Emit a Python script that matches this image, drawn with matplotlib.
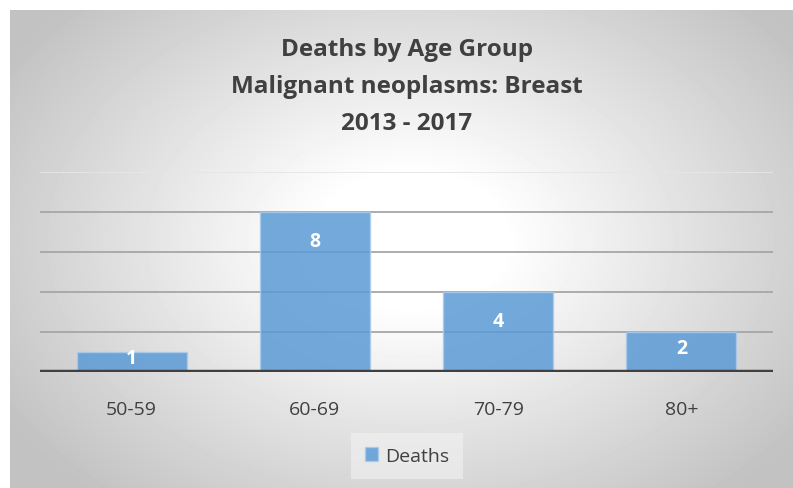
import matplotlib
matplotlib.use("Agg")
import matplotlib.pyplot as plt
import numpy as np

age_groups = ["50-59", "60-69", "70-79", "80+"]
deaths = [1, 8, 4, 2]
grid_levels = [2, 4, 6, 8, 10]

BAR = "#5B9BD5"; TXT = "#404040"; TITLE = "#404040"
plt.rcParams["font.family"] = ["Open Sans", "DejaVu Sans"]

W, H = 793, 489
fig = plt.figure(figsize=(W/100, H/100), dpi=100)
fig.patch.set_facecolor("white")

# radial grey gradient panel (Excel style)
bg = fig.add_axes([10/W, 0, 783/W, 478/H], zorder=0)
yy, xx = np.mgrid[0:478, 0:783]
d = np.sqrt(((xx-400)/470.0)**2 + ((yy-230)/330.0)**2)
shade = np.clip(1.0 - 0.25*np.clip(d-0.2, 0, None)/0.85, 0.76, 1.0)
bg.imshow(shade, cmap="gray", vmin=0, vmax=1, aspect="auto", interpolation="bilinear")
bg.set_axis_off()

ax = fig.add_axes([40/W, (H-373)/H, 733/W, 200/H], zorder=1)
ax.patch.set_alpha(0)
x = np.arange(len(age_groups))
for g in grid_levels:
    ax.axhline(g, color="#E6E6E6" if g == 10 else "#A6A6A6", lw=1.3, zorder=1)
bars = ax.bar(x, deaths, width=0.6, color=BAR, alpha=0.85, edgecolor="#A9CBEA",
              linewidth=1, zorder=2, label="Deaths")
ax.axhline(0, color="#404040", lw=3.2, zorder=3)
px_per_unit = 200/10
for b, v in zip(bars, deaths):
    off = min(29, v*px_per_unit/2 - 3.5)
    ax.annotate(str(v), (b.get_x()+b.get_width()/2, v), xytext=(0, -off*0.72), textcoords="offset points",
                ha="center", va="center", color="white", fontweight="bold", fontsize=14, zorder=4)
ax.set_xlim(-0.5, len(age_groups)-0.5)
ax.set_ylim(0, 10)
ax.set_yticks([])
ax.set_xticks(x)
ax.set_xticklabels(age_groups, fontsize=14, color=TXT)
ax.tick_params(axis="x", length=0, pad=20)
for s in ax.spines.values():
    s.set_visible(False)

fig.text(407/W, 1-87/H, "Deaths by Age Group\nMalignant neoplasms: Breast\n2013 - 2017",
         ha="center", va="center", fontsize=17.5, fontweight="bold", color=TITLE, linespacing=1.7)

leg = ax.legend(loc="center", bbox_to_anchor=(407/W, 1-457/H), bbox_transform=fig.transFigure,
                fontsize=14, frameon=True, handlelength=0.7, handleheight=0.7, handletextpad=0.35,
                borderpad=0.7, fancybox=False)
leg.get_frame().set_facecolor("#F2F2F2"); leg.get_frame().set_alpha(0.6); leg.get_frame().set_linewidth(0)
for t in leg.get_texts():
    t.set_color(TXT)

fig.savefig("out.png", dpi=100)
